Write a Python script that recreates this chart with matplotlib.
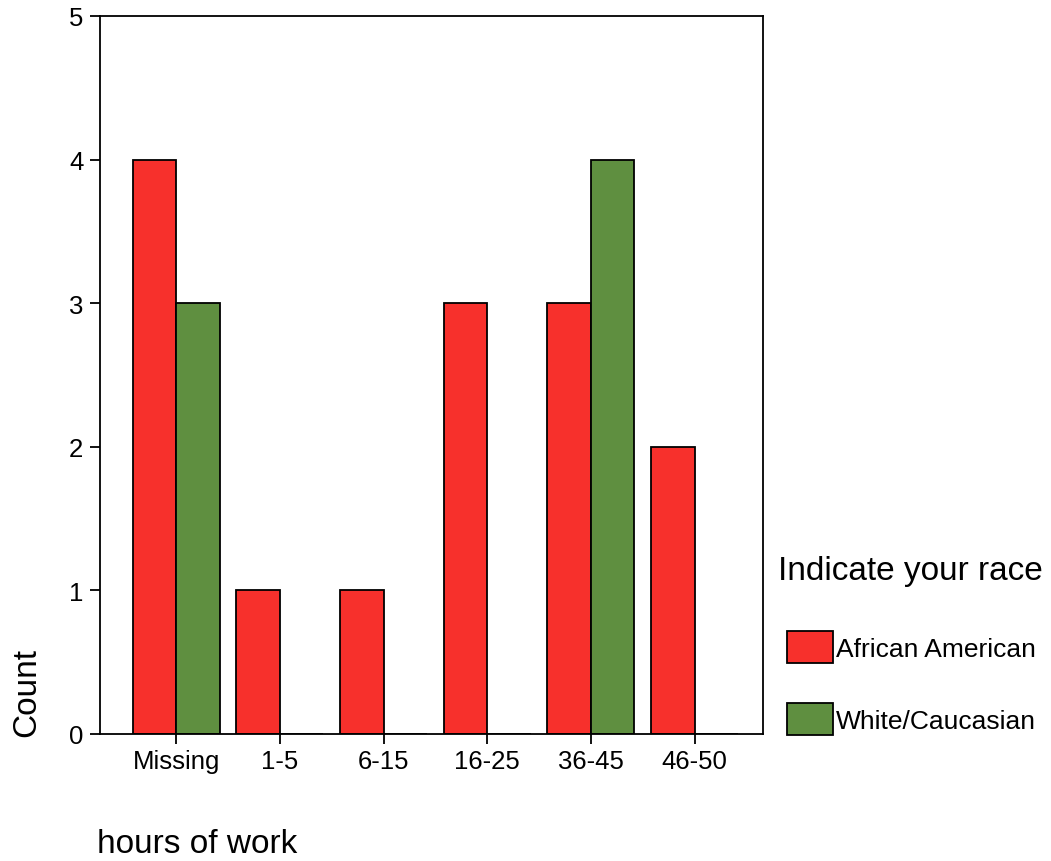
import matplotlib.pyplot as plt
import numpy as np

plt.rcParams['font.family'] = ['Liberation Sans', 'DejaVu Sans']

# data
categories = ['Missing', '1-5', '6-15', '16-25', '36-45', '46-50']
african_american = [4, 1, 1, 3, 3, 2]
white_caucasian = [3, 0, 0, 0, 4, 0]
series_names = ['African American', 'White/Caucasian']

red = '#f7302c'
green = '#5f8f40'

fig = plt.figure(figsize=(10.51, 8.62), dpi=100)
ax = fig.add_axes([100 / 1051, 1 - 735 / 862, 663 / 1051, 718 / 862])

x = np.arange(len(categories))
w = 0.42
ax.bar(x - w, african_american, width=w, align='edge', color=red,
       edgecolor='black', linewidth=1.3, label=series_names[0])
ax.bar(x, white_caucasian, width=w, align='edge', color=green,
       edgecolor='black', linewidth=1.3, label=series_names[1])

ax.set_xlim(-0.735, 5.66)
ax.set_ylim(0, 5)
ax.set_yticks(range(6))
ax.set_xticks(x)
ax.set_xticklabels(categories)

for s in ax.spines.values():
    s.set_linewidth(1.3)
ax.tick_params(axis='both', direction='out', length=7, width=1.3,
               labelsize=18.5)
ax.tick_params(axis='y', pad=5)
ax.tick_params(axis='x', pad=4)

fig.text(27 / 1051, 1 - 693 / 862, 'Count', rotation=90, fontsize=24,
         ha='center', va='center')
fig.text(97 / 1051, 1 - 845 / 862, 'hours of work', fontsize=24,
         ha='left', va='center')

# legend title drawn separately so it can sit a little left of the swatches
fig.text(778 / 1051, 1 - 572 / 862, 'Indicate your race', fontsize=24,
         ha='left', va='center')
ax.legend(loc='upper left', bbox_to_anchor=(787 / 1051, 1 - 632 / 862),
          bbox_transform=fig.transFigure, frameon=False, fontsize=19,
          handlelength=1.74, handleheight=1.5,
          handletextpad=0.1, labelspacing=1.5, borderpad=0,
          borderaxespad=0)

plt.savefig('out.png', dpi=100)
